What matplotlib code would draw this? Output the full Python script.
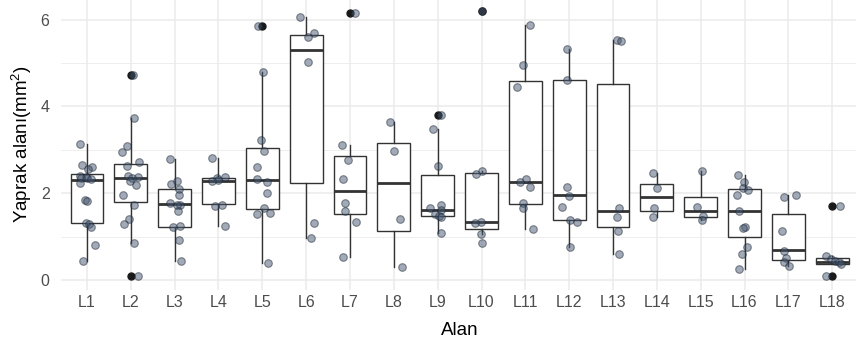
import numpy as np
import matplotlib
matplotlib.use('agg')
import matplotlib.pyplot as plt

plt.rcParams['font.family'] = ['Liberation Sans', 'DejaVu Sans']
plt.rcParams['mathtext.fontset'] = 'custom'
plt.rcParams['mathtext.rm'] = 'Liberation Sans'

# areas
labels = ['L1', 'L2', 'L3', 'L4', 'L5', 'L6', 'L7', 'L8', 'L9',
          'L10', 'L11', 'L12', 'L13', 'L14', 'L15', 'L16', 'L17', 'L18']

# box statistics
q1 = [1.32, 1.79, 1.22, 1.75, 1.63, 2.24, 1.52, 1.13, 1.48,
      1.18, 1.74, 1.38, 1.21, 1.60, 1.46, 0.99, 0.46, 0.36]
med = [2.31, 2.36, 1.75, 2.29, 2.31, 5.31, 2.06, 2.23, 1.62,
       1.34, 2.26, 1.95, 1.59, 1.92, 1.59, 1.59, 0.69, 0.42]
q3 = [2.45, 2.68, 2.10, 2.35, 3.04, 5.65, 2.85, 3.15, 2.41,
      2.46, 4.58, 4.60, 4.51, 2.22, 1.90, 2.10, 1.52, 0.50]
whislo = [0.44, 0.85, 0.44, 1.25, 0.38, 0.96, 0.52, 0.30, 1.08,
          1.05, 1.18, 0.75, 0.60, 1.46, 1.38, 0.25, 0.31, 0.36]
whishi = [3.13, 3.73, 2.79, 2.82, 4.79, 6.06, 3.10, 3.65, 3.48,
          2.52, 5.87, 5.32, 5.52, 2.46, 2.52, 2.41, 1.96, 0.55]
fliers = [[], [4.73, 0.08], [], [], [5.85], [], [6.15], [], [3.79],
          [6.20], [], [], [], [], [], [], [], [1.71, 0.08]]

# individual leaves
leaves = [
    [3.13, 2.65, 2.60, 2.55, 2.40, 2.38, 2.36, 2.34, 2.32, 2.23, 1.85, 1.83, 1.32, 1.29, 1.22, 0.80, 0.44],
    [4.73, 3.73, 3.09, 2.96, 2.72, 2.62, 2.40, 2.38, 2.36, 2.29, 2.19, 1.96, 1.73, 1.41, 1.29, 0.85, 0.08],
    [2.79, 2.27, 2.21, 2.10, 1.96, 1.77, 1.73, 1.72, 1.58, 1.25, 1.22, 0.91, 0.44],
    [2.82, 2.38, 2.35, 2.31, 2.27, 1.73, 1.71, 1.25],
    [5.85, 4.79, 3.23, 2.98, 2.60, 2.33, 2.25, 2.00, 1.65, 1.54, 1.52, 0.38],
    [6.06, 5.68, 5.59, 5.02, 1.32, 0.96],
    [6.15, 3.10, 2.76, 2.32, 1.77, 1.58, 1.33, 0.52],
    [3.65, 2.98, 1.41, 0.30],
    [3.79, 3.48, 2.63, 1.72, 1.66, 1.62, 1.52, 1.48, 1.46, 1.08],
    [6.20, 2.52, 2.44, 1.33, 1.31, 1.05, 0.85],
    [5.87, 4.96, 4.45, 2.32, 2.26, 2.15, 1.77, 1.65, 1.18],
    [5.32, 4.60, 2.15, 1.94, 1.68, 1.38, 1.33, 0.75],
    [5.52, 5.50, 1.65, 1.46, 1.13, 0.60],
    [2.46, 2.13, 1.65, 1.46],
    [2.52, 1.68, 1.48, 1.38],
    [2.41, 2.25, 2.11, 2.07, 1.96, 1.58, 1.21, 1.19, 0.77, 0.60, 0.25],
    [1.96, 1.91, 1.13, 0.67, 0.50, 0.41, 0.31],
    [1.71, 0.55, 0.48, 0.44, 0.42, 0.36, 0.08],
]

pos = np.arange(1, len(labels) + 1)

fig = plt.figure(figsize=(8.56, 3.51), dpi=100)
ax = fig.add_axes([0.0709, 0.174, 0.932, 0.832])

stats = []
for i in range(len(labels)):
    stats.append(dict(q1=q1[i], med=med[i], q3=q3[i], whislo=whislo[i],
                      whishi=whishi[i], fliers=fliers[i]))

ax.bxp(stats, positions=pos, widths=0.75, patch_artist=True,
       boxprops=dict(facecolor='white', edgecolor='#333333', linewidth=1.0),
       medianprops=dict(color='#333333', linewidth=2.0),
       whiskerprops=dict(color='#333333', linewidth=1.0),
       capprops=dict(linewidth=0),
       flierprops=dict(marker='o', markersize=5, markerfacecolor='#1a1a1a',
                       markeredgecolor='#1a1a1a'),
       zorder=2)

# jittered points, like geom_jitter
rng = np.random.default_rng(3)
for p, vals in zip(pos, leaves):
    xs = p + rng.uniform(-0.2, 0.2, len(vals))
    ax.scatter(xs, vals, s=30, color='#44566f', alpha=0.5,
               edgecolors='#1b2533', linewidths=0.8, zorder=3)

ax.set_xlim(0.4, 18.6)
ax.set_ylim(-0.23, 6.5)
ax.set_xticks(pos)
ax.set_xticklabels(labels)
ax.set_yticks([0, 2, 4, 6])
ax.set_yticks([1, 3, 5], minor=True)

ax.grid(True, which='major', color='#ebebeb', linewidth=1.1, zorder=0)
ax.grid(True, which='minor', axis='y', color='#ebebeb', linewidth=0.6, zorder=0)
ax.set_axisbelow(True)
for s in ax.spines.values():
    s.set_visible(False)
ax.tick_params(axis='both', which='both', length=0, labelsize=11.5,
               labelcolor='#4d4d4d')
ax.tick_params(axis='x', pad=4)
ax.tick_params(axis='y', pad=8)

ax.set_xlabel('Alan', fontsize=13.5, labelpad=8)
ax.set_ylabel('Yaprak alanı$(\\mathregular{mm}^{2})$', fontsize=13.5, labelpad=5)

fig.savefig('out.png', dpi=100)
